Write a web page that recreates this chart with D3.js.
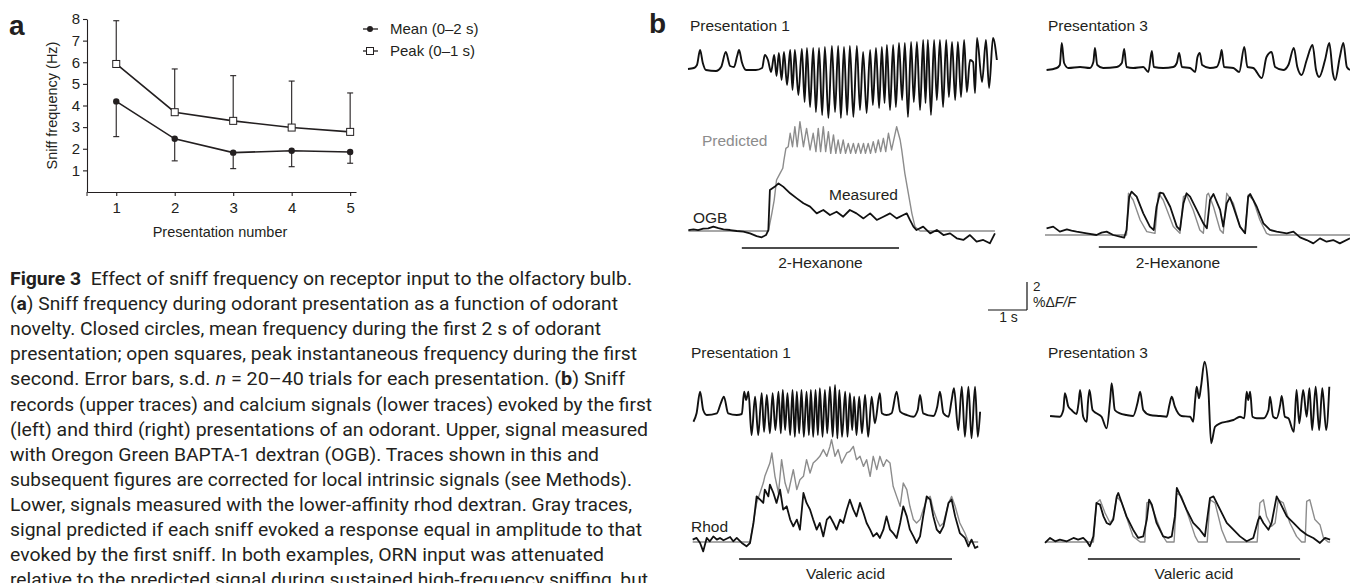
<!DOCTYPE html>
<html>
<head>
<meta charset="utf-8">
<script src="https://cdn.jsdelivr.net/npm/d3@7"></script>
<style>
  body { margin: 0; background: #fff; }
  svg { display: block; }
  text { font-family: "Liberation Sans", Arial, sans-serif; fill: #231f20; }
  .cap { font-family: Roboto, "Liberation Sans", sans-serif; white-space: pre; }
</style>
</head>
<body>
<div id="fig"></div>
<script>
// ---- panel a data ----
var presentations = [1, 2, 3, 4, 5];
var meanFreq = [4.19, 2.46, 1.82, 1.91, 1.85];
var meanSD = [1.63, 1.02, 0.74, 0.74, 0.52];
var peakFreq = [5.92, 3.69, 3.29, 2.98, 2.78];
var peakSD = [2.0, 2.0, 2.09, 2.15, 1.8];
var yTicks = [1, 2, 3, 4, 5, 6, 7, 8];
var legendLabels = ["Mean (0\u20132 s)", "Peak (0\u20131 s)"];

// ---- panel b data: [time (s), value] ----
// sniff in arbitrary units, calcium in %dF/F
var hexP1Sniff = [[0,-0.1],[0.15,0],[0.23,0.3],[0.31,1.8],[0.38,0.5],[0.46,-0.2],[0.72,-0.3],[0.85,0.1],[0.97,1.6],[1.08,0.2],[1.18,0.1],[1.26,1.2],[1.31,1.8],[1.38,0.6],[1.49,-0.2],[1.74,-0.2],[1.90,0],[1.97,1.3],[2.05,0.8],[2.13,-0.4],[2.21,1.3],[2.27,-0.8],[2.33,1.5],[2.40,-1.2],[2.46,1.6],[2.54,-1.7],[2.62,1.8],[2.68,-2.2],[2.74,1.8],[2.83,-2.7],[2.92,1.9],[2.99,-3.4],[3.05,2.0],[3.13,-3.9],[3.21,2.0],[3.28,-4.4],[3.36,2.0],[3.44,-4.7],[3.51,2.1],[3.60,-5.0],[3.69,2.2],[3.77,-4.4],[3.85,2.2],[3.92,-5.0],[4.00,2.1],[4.08,-4.7],[4.15,2.2],[4.24,-4.9],[4.33,2.2],[4.41,-4.2],[4.49,1.6],[4.58,-4.5],[4.67,1.8],[4.74,-3.7],[4.82,2.0],[4.90,-4.0],[4.97,2.1],[5.04,-3.5],[5.10,2.3],[5.18,-4.2],[5.26,2.3],[5.33,-3.9],[5.41,2.5],[5.49,-3.2],[5.56,2.5],[5.64,-4.9],[5.72,2.6],[5.79,-3.4],[5.87,2.6],[5.95,-4.2],[6.03,2.8],[6.09,-3.5],[6.15,2.8],[6.23,-4.7],[6.31,2.8],[6.38,-3.2],[6.46,2.8],[6.54,-3.9],[6.62,2.8],[6.69,-2.9],[6.77,2.6],[6.85,-3.2],[6.92,2.6],[7.00,-2.9],[7.08,2.8],[7.15,-2.4],[7.23,0.8],[7.31,0.6],[7.36,-2.5],[7.41,3.0],[7.54,-1.4],[7.64,2.8],[7.72,-2.0],[7.82,3.0],[7.92,0.8]];
var hexP1Measured = [[0.01,0.07],[0.14,0.12],[0.26,0.07],[0.39,0.17],[0.52,0.19],[0.65,0.31],[0.78,0.21],[0.91,0.12],[1.08,0.07],[1.25,0],[1.42,-0.05],[1.59,-0.17],[1.76,-0.36],[1.89,-0.45],[2.00,-0.29],[2.06,0.07],[2.10,2.93],[2.23,3.17],[2.32,3.40],[2.44,3.17],[2.62,2.69],[2.79,2.33],[2.96,1.98],[3.13,1.74],[3.30,1.26],[3.47,1.50],[3.64,1.14],[3.81,1.38],[3.98,1.02],[4.15,1.50],[4.32,1.26],[4.50,0.90],[4.67,1.26],[4.84,0.79],[5.01,1.02],[5.18,1.26],[5.35,0.90],[5.52,1.14],[5.61,1.26],[5.69,0.79],[5.78,0.31],[5.86,0.07],[6.03,0.31],[6.21,-0.17],[6.38,0.07],[6.55,-0.29],[6.72,-0.17],[6.89,-0.52],[7.06,-0.64],[7.23,-0.29],[7.40,-0.76],[7.57,-0.64],[7.74,-0.88],[7.87,-0.17]];
var hexP1Predicted = [[0.01,0],[2.06,0],[2.15,1.26],[2.21,2.21],[2.27,3.64],[2.36,4.12],[2.43,4.48],[2.46,5.07],[2.51,5.90],[2.57,6.02],[2.62,6.98],[2.68,6.02],[2.74,7.45],[2.80,6.02],[2.87,7.81],[2.96,6.02],[3.04,7.33],[3.13,5.79],[3.21,6.98],[3.28,5.67],[3.34,7.33],[3.40,5.67],[3.47,7.45],[3.53,5.67],[3.60,7.10],[3.66,5.55],[3.73,6.86],[3.79,5.55],[3.85,6.50],[3.91,5.55],[3.98,6.50],[4.04,5.55],[4.11,6.26],[4.17,5.55],[4.24,6.26],[4.30,5.55],[4.37,6.26],[4.43,5.55],[4.50,6.26],[4.55,5.55],[4.62,6.26],[4.68,5.55],[4.75,6.38],[4.81,5.60],[4.88,6.50],[4.94,5.67],[5.01,6.62],[5.07,5.67],[5.14,6.98],[5.22,5.79],[5.35,7.45],[5.44,6.50],[5.48,5.79],[5.56,4.12],[5.65,2.69],[5.74,1.26],[5.82,0.31],[5.95,0],[7.87,0]];
var hexP3Sniff = [[0.04,-0.2],[0.30,0],[0.38,0.3],[0.43,2.5],[0.49,0.5],[0.60,0],[0.90,0.1],[1.15,0],[1.24,0.6],[1.28,2.0],[1.34,0.3],[1.49,0],[1.84,0.1],[1.97,0.5],[2.03,1.9],[2.09,0.1],[2.26,0],[2.52,0.1],[2.65,-0.4],[2.74,1.7],[2.79,0.1],[3.03,0],[3.29,0.1],[3.38,0.5],[3.44,1.5],[3.51,0.1],[3.72,0],[3.85,-0.4],[3.91,1.1],[3.97,1.5],[4.03,0.3],[4.23,0],[4.40,0.1],[4.49,1.0],[4.53,1.8],[4.59,0.1],[4.83,0],[4.98,-0.4],[5.11,2.1],[5.19,0.1],[5.34,0],[5.56,-1.0],[5.68,1.1],[5.81,1.6],[5.90,0.1],[6.11,-0.2],[6.24,0.3],[6.38,2.0],[6.47,0.1],[6.58,-0.7],[6.71,0.8],[6.86,2.3],[6.95,-0.2],[7.03,-0.9],[7.18,0.8],[7.29,2.5],[7.38,-0.5],[7.44,-1.2],[7.56,1.1],[7.65,2.5],[7.74,0.1],[7.82,-0.2]];
var hexP3Measured = [[0.04,0.48],[0.21,0.60],[0.38,0.24],[0.56,0.40],[0.68,0.31],[0.81,0.24],[1.07,0.12],[1.32,0],[1.45,0.17],[1.58,0.24],[1.75,0],[1.92,-0.12],[2.03,-0.19],[2.09,0.36],[2.16,2.74],[2.22,3.10],[2.35,2.74],[2.52,1.55],[2.69,0.60],[2.79,0.36],[2.86,2.02],[2.95,3.02],[3.03,2.98],[3.21,2.02],[3.38,0.60],[3.46,0.36],[3.55,2.26],[3.63,2.98],[3.72,2.74],[3.89,1.79],[4.06,0.83],[4.15,0.48],[4.23,2.50],[4.32,2.93],[4.49,1.79],[4.57,0.60],[4.66,2.26],[4.74,2.69],[4.83,2.02],[5.00,0.60],[5.13,0.12],[5.21,2.74],[5.26,2.93],[5.43,2.02],[5.60,0.83],[5.77,0.36],[5.94,0.24],[6.20,0.12],[6.37,0.24],[6.54,-0.17],[6.71,-0.36],[6.88,-0.60],[7.05,-0.24],[7.22,-0.48],[7.39,-0.36],[7.56,-0.60],[7.82,-0.24]];
var hexP3Predicted = [[0,0],[2.09,0],[2.14,2.98],[2.26,2.50],[2.44,1.07],[2.61,0.24],[2.82,0.12],[2.91,2.98],[3.03,2.50],[3.29,0.60],[3.46,0.12],[3.55,2.74],[3.63,2.86],[3.80,1.79],[3.97,0.36],[4.06,0.12],[4.15,2.86],[4.19,2.98],[4.32,2.02],[4.49,0.36],[4.57,0.12],[4.66,2.98],[4.83,2.26],[5.00,0.60],[5.13,0.12],[5.21,2.86],[5.34,2.50],[5.51,1.07],[5.68,0.12],[5.77,0],[7.82,0]];
var valP1Sniff = [[0.14,-0.67],[0.22,0.17],[0.31,2.33],[0.39,0.50],[0.48,0],[0.74,0.17],[0.84,1.17],[0.92,1.83],[1.03,0.17],[1.25,0],[1.38,0.1],[1.44,2.33],[1.49,1.5],[1.55,2.33],[1.63,-2.0],[1.72,1.83],[1.80,-2.0],[1.89,2.17],[1.95,-1.67],[2.02,2.0],[2.10,-1.83],[2.17,2.17],[2.24,-1.5],[2.32,2.33],[2.38,-1.83],[2.43,2.5],[2.49,-1.5],[2.55,2.17],[2.62,-2.0],[2.68,2.5],[2.74,-2.17],[2.79,2.33],[2.85,-1.83],[2.91,2.5],[2.97,-2.17],[3.04,2.33],[3.10,-2.0],[3.15,2.5],[3.21,-2.17],[3.27,2.5],[3.33,-2.0],[3.38,2.67],[3.45,-2.17],[3.51,2.5],[3.57,-1.83],[3.64,2.83],[3.71,-2.17],[3.77,3.0],[3.83,-2.33],[3.88,2.5],[3.95,-2.17],[4.03,2.33],[4.09,-2.17],[4.15,2.17],[4.21,-1.5],[4.26,1.83],[4.32,-2.0],[4.39,1.83],[4.46,-1.83],[4.54,2.0],[4.62,-2.17],[4.71,1.83],[4.79,-0.83],[4.92,2.17],[4.97,0.17],[5.09,0],[5.22,0.17],[5.35,2.33],[5.44,0.33],[5.61,0],[5.78,-0.17],[5.89,0.5],[5.95,2.0],[6.03,0.17],[6.29,-0.1],[6.39,0.83],[6.46,2.33],[6.55,0.17],[6.68,-0.17],[6.76,1.5],[6.82,2.67],[6.93,-1.5],[7.02,2.83],[7.10,-2.17],[7.19,2.83],[7.27,-2.33],[7.36,2.83],[7.43,-2.17],[7.49,0.33]];
var valP1Measured = [[0.12,0.17],[0.22,0.29],[0.31,-0.07],[0.39,-0.67],[0.48,0.29],[0.56,0.05],[0.65,0.40],[0.74,0.17],[0.82,0.29],[0.91,0.12],[1.08,0.36],[1.16,0.05],[1.25,0.29],[1.38,-0.07],[1.50,-0.31],[1.59,-0.07],[1.68,1.36],[1.76,3.26],[1.85,3.02],[1.93,2.79],[1.97,3.74],[2.06,3.26],[2.10,4.10],[2.19,3.50],[2.27,2.79],[2.36,3.74],[2.44,2.31],[2.53,2.55],[2.62,1.60],[2.70,1.12],[2.79,1.60],[2.87,0.88],[2.96,3.50],[3.04,2.79],[3.13,2.31],[3.21,1.60],[3.30,0.88],[3.38,1.36],[3.47,0.40],[3.56,1.60],[3.64,1.83],[3.73,1.36],[3.81,0.88],[3.90,1.60],[3.98,1.36],[4.07,2.31],[4.15,3.02],[4.24,2.31],[4.32,1.83],[4.41,2.79],[4.50,2.07],[4.58,1.36],[4.67,0.88],[4.75,0.40],[4.84,0.64],[4.92,0.29],[5.01,0.88],[5.09,1.83],[5.18,0.88],[5.26,0.64],[5.35,0.29],[5.44,1.36],[5.52,2.55],[5.61,1.83],[5.69,0.88],[5.78,0.40],[5.86,-0.07],[5.95,0.40],[6.03,1.83],[6.12,3.26],[6.21,3.02],[6.29,1.83],[6.38,0.88],[6.46,0.64],[6.55,1.12],[6.68,2.79],[6.76,3.02],[6.85,1.83],[6.97,0.64],[7.10,0.29],[7.19,-0.31],[7.27,0.17],[7.36,-0.43],[7.44,-0.31]];
var valP1Predicted = [[0.12,0],[1.59,0],[1.76,2.79],[1.93,4.21],[1.97,4.69],[2.10,5.64],[2.15,6.36],[2.23,4.69],[2.32,3.50],[2.40,5.88],[2.49,4.21],[2.57,3.50],[2.70,5.17],[2.79,3.74],[2.87,4.45],[2.96,4.69],[3.04,5.88],[3.13,4.93],[3.21,5.64],[3.30,5.88],[3.38,6.12],[3.47,6.60],[3.56,6.12],[3.64,6.83],[3.68,7.31],[3.77,6.12],[3.85,6.60],[3.94,5.64],[4.07,6.36],[4.15,6.48],[4.24,6.83],[4.32,5.88],[4.41,6.12],[4.50,5.40],[4.58,5.88],[4.67,4.69],[4.75,6.12],[4.84,5.17],[4.92,6.12],[5.01,5.40],[5.09,5.88],[5.18,5.64],[5.26,3.98],[5.35,3.26],[5.44,2.55],[5.52,4.21],[5.61,3.74],[5.69,2.55],[5.78,1.60],[5.86,1.36],[5.95,1.60],[6.03,2.31],[6.12,3.02],[6.21,3.26],[6.29,2.31],[6.38,1.60],[6.46,1.12],[6.55,1.36],[6.68,2.79],[6.76,3.26],[6.85,2.55],[6.97,1.36],[7.10,0.64],[7.19,0],[7.44,0]];
var valP3Sniff = [[0.13,0],[0.38,-0.07],[0.47,0.6],[0.51,2.27],[0.60,0.93],[0.68,0.6],[0.81,0.2],[0.86,1.27],[0.90,2.6],[0.98,-0.07],[1.07,-0.57],[1.10,1.27],[1.14,2.6],[1.22,0.6],[1.32,0.27],[1.45,-0.07],[1.58,-1.23],[1.67,1.6],[1.71,3.27],[1.79,0.6],[1.92,0.27],[2.09,0.1],[2.26,0],[2.37,1.27],[2.44,2.43],[2.52,0.6],[2.69,0.1],[2.95,0],[3.12,-0.07],[3.19,1.1],[3.25,1.93],[3.33,0.93],[3.50,0],[3.72,-0.07],[3.80,-0.57],[3.85,1.6],[3.89,2.93],[3.95,1.77],[4.00,2.93],[4.09,5.43],[4.19,2.6],[4.26,-2.73],[4.36,-1.07],[4.49,-0.73],[4.66,-0.57],[4.83,-0.4],[5.00,-0.07],[5.11,-0.23],[5.17,2.43],[5.21,1.6],[5.26,2.43],[5.32,-0.07],[5.43,-0.23],[5.60,-0.23],[5.73,0.6],[5.77,1.93],[5.85,-0.07],[5.94,-0.23],[6.03,1.1],[6.07,2.0],[6.15,-0.07],[6.24,-0.23],[6.38,-1.57],[6.45,2.6],[6.52,-0.73],[6.62,2.6],[6.71,-0.07],[6.78,2.77],[6.85,-1.4],[6.94,2.93],[7.03,-1.4],[7.11,2.77],[7.21,-1.4],[7.29,2.93]];
var valP3Measured = [[0,-0.07],[0.13,0.29],[0.26,0.05],[0.38,0.17],[0.56,0.05],[0.73,0.29],[0.85,0.17],[0.98,0.29],[1.07,0.05],[1.15,-0.31],[1.24,0.40],[1.32,2.79],[1.41,2.67],[1.50,1.83],[1.58,1.36],[1.67,1.24],[1.75,1.60],[1.84,3.26],[1.88,3.50],[1.97,2.79],[2.09,1.83],[2.26,0.88],[2.39,0.29],[2.52,0.40],[2.61,1.60],[2.67,3.02],[2.74,2.67],[2.86,1.36],[3.03,0.40],[3.16,0.29],[3.25,0.40],[3.33,1.83],[3.38,3.86],[3.46,3.38],[3.50,3.14],[3.63,2.31],[3.80,1.36],[3.97,0.88],[4.10,0.40],[4.23,3.14],[4.32,3.26],[4.49,2.31],[4.66,1.36],[4.83,0.88],[5.00,0.40],[5.17,0.05],[5.34,0.29],[5.47,1.60],[5.51,1.83],[5.60,1.36],[5.73,0.88],[5.81,1.36],[5.94,3.26],[6.03,2.79],[6.20,1.83],[6.37,1.36],[6.54,0.88],[6.71,0.52],[6.88,0.29],[7.05,-0.07],[7.18,0.29],[7.31,0.17]];
var valP3Predicted = [[0,0],[1.24,0],[1.32,2.79],[1.41,3.02],[1.54,2.07],[1.67,1.36],[1.75,1.71],[1.84,3.26],[1.97,2.79],[2.14,1.36],[2.26,0.40],[2.44,0],[2.56,0],[2.61,2.79],[2.69,2.90],[2.86,1.60],[3.03,0.40],[3.12,0],[3.31,0],[3.38,3.50],[3.50,3.26],[3.68,1.83],[3.85,0.40],[3.93,0],[4.16,0],[4.23,3.02],[4.36,2.79],[4.53,0.88],[4.66,0],[5.44,0],[5.51,2.79],[5.60,3.02],[5.68,1.83],[5.81,1.12],[5.90,1.36],[5.98,3.02],[6.11,2.79],[6.28,1.36],[6.45,0.40],[6.58,0],[6.67,0],[6.71,2.90],[6.79,3.02],[6.92,1.60],[7.05,1.24],[7.14,0.29],[7.26,0],[7.31,0]];

// odour on/off (s)
var hexOdorP1 = [1.38, 5.41];
var hexOdorP3 = [1.38, 5.44];
var valOdorP1 = [1.31, 6.77];
var valOdorP3 = [1.10, 6.54];

// scale bar values
var scaleBarTime = 1;     // s
var scaleBarSignal = 2;   // %dF/F

var captionLines = [
  [["Figure 3", "b"], ["  Effect of sniff frequency on receptor input to the olfactory bulb."]],
  [["("], ["a", "b"], [") Sniff frequency during odorant presentation as a function of odorant"]],
  [["novelty. Closed circles, mean frequency during the first 2 s of odorant"]],
  [["presentation; open squares, peak instantaneous frequency during the first"]],
  [["second. Error bars, s.d. "], ["n", "i"], [" = 20\u201340 trials for each presentation. ("], ["b", "b"], [") Sniff"]],
  [["records (upper traces) and calcium signals (lower traces) evoked by the first"]],
  [["(left) and third (right) presentations of an odorant. Upper, signal measured"]],
  [["with Oregon Green BAPTA-1 dextran (OGB). Traces shown in this and"]],
  [["subsequent figures are corrected for local intrinsic signals (see Methods)."]],
  [["Lower, signals measured with the lower-affinity rhod dextran. Gray traces,"]],
  [["signal predicted if each sniff evoked a response equal in amplitude to that"]],
  [["evoked by the first sniff. In both examples, ORN input was attenuated"]],
  [["relative to the predicted signal during sustained high-frequency sniffing, but"]]
];
var captionWidths = [622, 608, 591, 627, 615, 642, 638, 589, 622, 622, 632, 594, 638];

var svg = d3.select("#fig").append("svg")
  .attr("width", 1350)
  .attr("height", 583);

// ================= panel a =================
var ink = "#231f20";
var x = d3.scaleLinear().domain([0.5, 5.1]).range([87, 356]);
var y = d3.scaleLinear().domain([0, 8]).range([192, 19]);

svg.append("text").attr("x", 9).attr("y", 35)
  .style("font-size", "28px").style("font-weight", "bold").text("a");

var yAxis = svg.append("g").attr("transform", "translate(87,0)")
  .call(d3.axisLeft(y).tickValues(yTicks).tickFormat(d3.format("d")).tickSize(4).tickSizeOuter(0).tickPadding(3));
var xAxis = svg.append("g").attr("transform", "translate(0,192)")
  .call(d3.axisBottom(x).tickValues(presentations).tickFormat(d3.format("d")).tickSize(4).tickSizeOuter(0).tickPadding(6));
[yAxis, xAxis].forEach(function(ax) {
  ax.selectAll("path, line").attr("stroke", ink).attr("stroke-width", 1.1);
  ax.selectAll("text").style("font-size", "15px").style("font-family", "'Liberation Sans', Arial, sans-serif").attr("fill", ink);
});
// y axis dips slightly below x axis
svg.append("line").attr("x1", 87).attr("x2", 87).attr("y1", 192).attr("y2", 196).attr("stroke", ink);

svg.append("text")
  .attr("transform", "translate(57," + y(4.0) + ") rotate(-90)")
  .attr("text-anchor", "middle").style("font-size", "14.5px")
  .text("Sniff frequency (Hz)");
svg.append("text").attr("x", 220).attr("y", 237)
  .attr("text-anchor", "middle").style("font-size", "14.5px")
  .text("Presentation number");

// error bars
function errorBars(vals, sds, dir) {
  var g = svg.append("g").attr("stroke", ink).attr("stroke-width", 1.1);
  presentations.forEach(function(p, i) {
    var yEnd = y(vals[i] + dir * sds[i]);
    g.append("line").attr("x1", x(p)).attr("x2", x(p)).attr("y1", y(vals[i])).attr("y2", yEnd);
    g.append("line").attr("x1", x(p) - 3).attr("x2", x(p) + 3).attr("y1", yEnd).attr("y2", yEnd);
  });
}
errorBars(meanFreq, meanSD, -1);
errorBars(peakFreq, peakSD, 1);

var lineA = d3.line().x(function(d) { return x(d[0]); }).y(function(d) { return y(d[1]); });
svg.append("path").datum(d3.zip(presentations, peakFreq))
  .attr("fill", "none").attr("stroke", ink).attr("stroke-width", 1.6).attr("d", lineA);
svg.append("path").datum(d3.zip(presentations, meanFreq))
  .attr("fill", "none").attr("stroke", ink).attr("stroke-width", 1.6).attr("d", lineA);

svg.selectAll(".meanPt").data(d3.zip(presentations, meanFreq)).enter().append("circle")
  .attr("cx", function(d) { return x(d[0]); }).attr("cy", function(d) { return y(d[1]); })
  .attr("r", 3.2).attr("fill", ink);
svg.selectAll(".peakPt").data(d3.zip(presentations, peakFreq)).enter().append("rect")
  .attr("x", function(d) { return x(d[0]) - 3.5; }).attr("y", function(d) { return y(d[1]) - 3.5; })
  .attr("width", 7).attr("height", 7).attr("fill", "#fff").attr("stroke", ink).attr("stroke-width", 1);

// legend
var leg = svg.append("g");
[29, 51].forEach(function(ly, i) {
  leg.append("line").attr("x1", 363).attr("x2", 378).attr("y1", ly).attr("y2", ly)
    .attr("stroke", ink).attr("stroke-width", 1.3);
  if (i === 0) leg.append("circle").attr("cx", 370).attr("cy", ly).attr("r", 3).attr("fill", ink);
  else leg.append("rect").attr("x", 366.5).attr("y", ly - 3.5).attr("width", 7).attr("height", 7)
    .attr("fill", "#fff").attr("stroke", ink);
  leg.append("text").attr("x", 390).attr("y", ly).attr("dy", "0.36em")
    .style("font-size", "15px").text(legendLabels[i]);
});

// ================= caption =================
captionLines.forEach(function(segs, i) {
  var t = svg.append("text").attr("class", "cap")
    .attr("x", 10).attr("y", 285 + i * 25.1)
    .style("font-size", "18px")
    .attr("textLength", captionWidths[i]).attr("lengthAdjust", "spacingAndGlyphs");
  segs.forEach(function(s) {
    var ts = t.append("tspan").text(s[0]);
    if (s[1] === "b") ts.style("font-weight", "bold");
    if (s[1] === "i") ts.style("font-style", "italic");
  });
});

// ================= panel b =================
svg.append("text").attr("x", 649).attr("y", 33)
  .style("font-size", "28px").style("font-weight", "bold").text("b");

var gray = "#8c8c8c";
var pxPerSec = 39, pxPerUnit = 10, pxPerPct = 14;

var panels = [
  { title: "Presentation 1", tx: 690, ty: 31, x0: 688, sniffBase: 68, caBase: 231, barY: 248,
    sniff: hexP1Sniff, measured: hexP1Measured, predicted: hexP1Predicted, odor: hexOdorP1, odorName: "2-Hexanone", nameY: 268 },
  { title: "Presentation 3", tx: 1048, ty: 31, x0: 1045, sniffBase: 68, caBase: 235, barY: 247,
    sniff: hexP3Sniff, measured: hexP3Measured, predicted: hexP3Predicted, odor: hexOdorP3, odorName: "2-Hexanone", nameY: 268 },
  { title: "Presentation 1", tx: 691, ty: 358, x0: 688, sniffBase: 415, caBase: 542, barY: 559,
    sniff: valP1Sniff, measured: valP1Measured, predicted: valP1Predicted, odor: valOdorP1, odorName: "Valeric acid", nameY: 579 },
  { title: "Presentation 3", tx: 1048, ty: 358, x0: 1045, sniffBase: 416, caBase: 542, barY: 559,
    sniff: valP3Sniff, measured: valP3Measured, predicted: valP3Predicted, odor: valOdorP3, odorName: "Valeric acid", nameY: 579 }
];

panels.forEach(function(p) {
  var g = svg.append("g");
  var xs = d3.scaleLinear().domain([0, 8]).range([p.x0, p.x0 + 8 * pxPerSec]);
  var ys = d3.scaleLinear().domain([0, 1]).range([p.sniffBase, p.sniffBase - pxPerUnit]);
  var yc = d3.scaleLinear().domain([0, 1]).range([p.caBase, p.caBase - pxPerPct]);

  g.append("text").attr("x", p.tx).attr("y", p.ty).style("font-size", "15.5px").text(p.title);

  g.append("path").datum(p.sniff)
    .attr("fill", "none").attr("stroke", "#111").attr("stroke-width", 1.9).attr("stroke-linejoin", "round")
    .attr("d", d3.line().x(function(d) { return xs(d[0]); }).y(function(d) { return ys(d[1]); })
      .curve(d3.curveMonotoneX));

  g.append("path").datum(p.predicted)
    .attr("fill", "none").attr("stroke", gray).attr("stroke-width", 1.4).attr("stroke-linejoin", "round")
    .attr("d", d3.line().x(function(d) { return xs(d[0]); }).y(function(d) { return yc(d[1]); }));
  g.append("path").datum(p.measured)
    .attr("fill", "none").attr("stroke", "#111").attr("stroke-width", 1.8).attr("stroke-linejoin", "round")
    .attr("d", d3.line().x(function(d) { return xs(d[0]); }).y(function(d) { return yc(d[1]); }));

  g.append("line").attr("x1", xs(p.odor[0])).attr("x2", xs(p.odor[1]))
    .attr("y1", p.barY).attr("y2", p.barY).attr("stroke", "#111").attr("stroke-width", 1.6);
  g.append("text").attr("x", xs((p.odor[0] + p.odor[1]) / 2)).attr("y", p.nameY)
    .attr("text-anchor", "middle").style("font-size", "15.5px").text(p.odorName);
});

// trace labels
svg.append("text").attr("x", 702).attr("y", 146).style("font-size", "15.5px").style("fill", gray).text("Predicted");
svg.append("text").attr("x", 829).attr("y", 200).style("font-size", "15.5px").text("Measured");
svg.append("text").attr("x", 693).attr("y", 223).style("font-size", "15.5px").text("OGB");
svg.append("text").attr("x", 691).attr("y", 532).style("font-size", "15.5px").text("Rhod");

// scale bar
var sbX = d3.scaleLinear().domain([0, 1]).range([988, 988 + pxPerSec]);
var sbY = d3.scaleLinear().domain([0, 1]).range([310, 310 - pxPerPct]);
var sb = svg.append("g").attr("stroke", "#111").attr("stroke-width", 1.2);
sb.append("line").attr("x1", sbX(0)).attr("x2", sbX(scaleBarTime)).attr("y1", sbY(0)).attr("y2", sbY(0));
sb.append("line").attr("x1", sbX(scaleBarTime)).attr("x2", sbX(scaleBarTime)).attr("y1", sbY(0)).attr("y2", sbY(scaleBarSignal));
svg.append("text").attr("x", 1033).attr("y", 291).style("font-size", "13.5px").text(scaleBarSignal);
var dff = svg.append("text").attr("x", 1033).attr("y", 307).style("font-size", "14px");
dff.append("tspan").text("%\u0394");
dff.append("tspan").style("font-style", "italic").text("F/F");
svg.append("text").attr("x", sbX(scaleBarTime / 2) + 1).attr("y", 322).attr("text-anchor", "middle")
  .style("font-size", "14px").text(scaleBarTime + " s");
</script>
</body>
</html>
